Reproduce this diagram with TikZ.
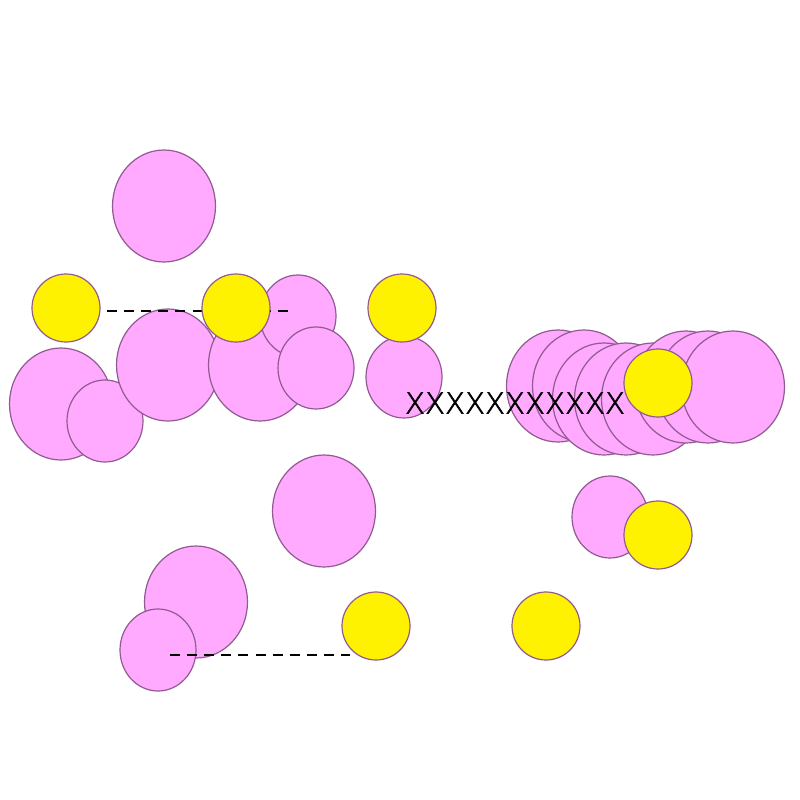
\documentclass[tikz,border=0pt]{standalone}
\usepackage{fontspec}
\usetikzlibrary{shapes.geometric}
\newfontfamily\xfont[FakeBold=2]{DejaVu Sans ExtraLight}
\definecolor{pinkfill}{RGB}{255,170,255}
\definecolor{yelfill}{RGB}{255,242,0}
\definecolor{edgecol}{RGB}{145,90,145}
\begin{document}
\begin{tikzpicture}[x=1pt,y=-1pt,
  pinkbig/.style={ellipse,draw=edgecol,fill=pinkfill,line width=1.2pt,minimum width=103pt,minimum height=112pt,inner sep=0pt},
  pinksmall/.style={ellipse,draw=edgecol,fill=pinkfill,line width=1.2pt,minimum width=76pt,minimum height=82pt,inner sep=0pt},
  yel/.style={circle,draw=edgecol,fill=yelfill,line width=1.2pt,minimum size=68pt,inner sep=0pt},
  dashline/.style={draw=black,line width=2pt,dash pattern=on 10pt off 7.1pt},
  lbl/.style={inner sep=0pt,font=\xfont\fontsize{29.2}{29.2}\selectfont}]
\useasboundingbox (0,0) rectangle (800,800);
% pink ellipses
\node[pinkbig] (p1) at (164,206) {};
\node[pinkbig] (p2) at (61,404) {};
\node[pinksmall] (p3) at (105,421) {};
\node[pinkbig] (p4) at (168,365) {};
\node[pinkbig] (p5) at (260,365) {};
\node[pinksmall] (p6) at (298,316) {};
\node[pinksmall] (p7) at (316,368) {};
\node[pinksmall] (p8) at (404,377) {};
\node[pinkbig] (p9) at (324,511) {};
\node[pinkbig] (p10) at (196,602) {};
\node[pinksmall] (p11) at (158,650) {};
\node[pinksmall] (p12) at (610,517) {};
% right cluster
\node[pinkbig] (c1) at (558,386) {};
\node[pinkbig] (c2) at (584,386) {};
\node[pinkbig] (c3) at (604,399) {};
\node[pinkbig] (c4) at (626,399) {};
\node[pinkbig] (c5) at (653,399) {};
\node[pinkbig] (c6) at (686,387) {};
\node[pinkbig] (c7) at (708,387) {};
\node[pinkbig] (c8) at (733,387) {};
% dashed connectors
\coordinate (d1a) at (107,311);
\coordinate (d1b) at (288,311);
\coordinate (d2a) at (170,655);
\coordinate (d2b) at (350,655);
\draw[dashline] (d1a) -- (d1b);
\draw[dashline] (d2a) -- (d2b);
% label
\node[lbl] (t) at (515,403) {XXXXXXXXXXX};
% yellow circles
\node[yel] (y1) at (66,308) {};
\node[yel] (y2) at (236,308) {};
\node[yel] (y3) at (402,308) {};
\node[yel] (y4) at (658,383) {};
\node[yel] (y5) at (658,535) {};
\node[yel] (y6) at (376,626) {};
\node[yel] (y7) at (546,626) {};
\end{tikzpicture}
\end{document}
